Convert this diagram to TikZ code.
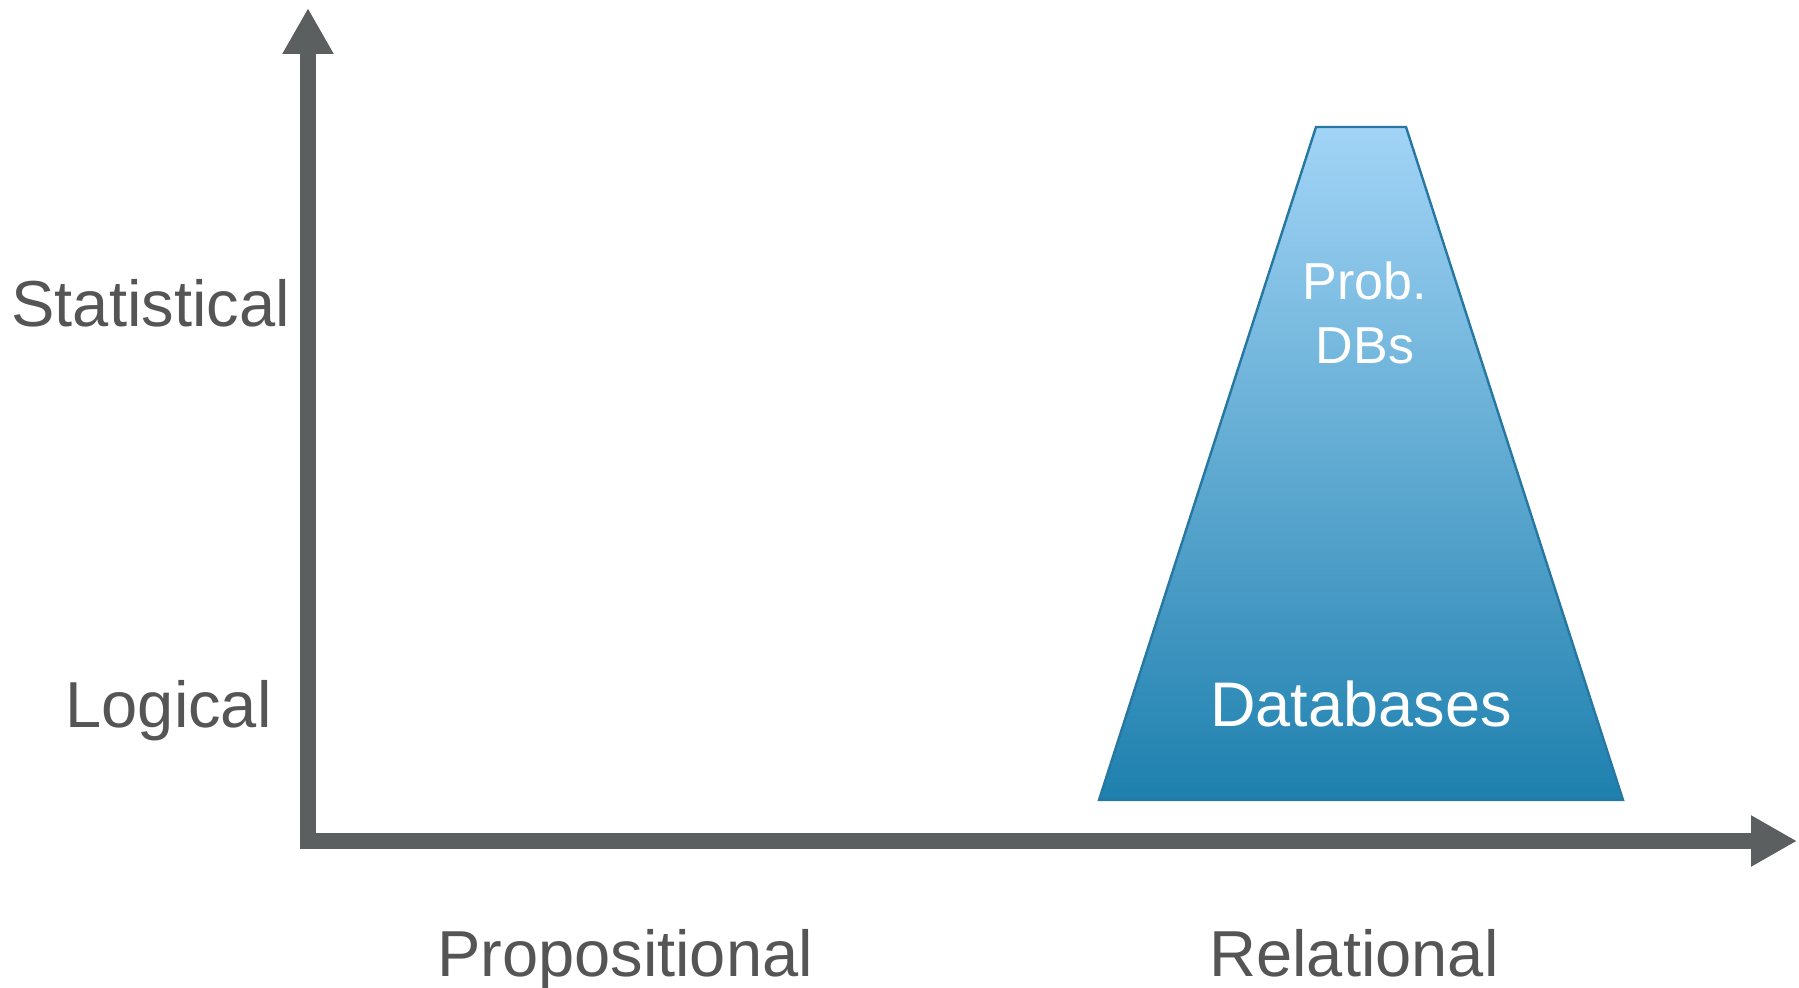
\documentclass[tikz,border=0pt]{standalone}
\usepackage{fontspec}
\setmainfont{Liberation Sans}
\usetikzlibrary{arrows.meta,shadows}

\definecolor{axisgray}{RGB}{91,95,95}
\definecolor{labelgray}{RGB}{85,85,85}
\definecolor{dbtop}{RGB}{162,212,246}
\definecolor{dbbottom}{RGB}{30,128,174}
\definecolor{dbedge}{RGB}{38,120,162}

\begin{document}
\begin{tikzpicture}[x=0.5pt,y=-0.5pt,
  axis/.style={draw=axisgray,line width=8pt,line join=miter,
    {Triangle[width=24pt,length=23pt]}-{Triangle[width=24pt,length=23pt]}},
  axislabel/.style={inner sep=0pt,text=labelgray,font=\fontsize{32.5}{40}\selectfont},
  dblabel/.style={inner sep=0pt,text=white,align=center}]
\path[use as bounding box] (0,0) rectangle (1799,988);
% axes
\coordinate (ytip) at (308,8);
\coordinate (origin) at (308,841);
\coordinate (xtip) at (1797,841);
\draw[axis] (ytip) -- (origin) -- (xtip);
% the trapezoid
\coordinate (tl) at (1316,127);
\coordinate (tr) at (1406,127);
\coordinate (br) at (1623,800);
\coordinate (bl) at (1099,800);
\fill[black,opacity=.18] ([xshift=2,yshift=3]bl) -- ([xshift=-2,yshift=3]br) -- ([xshift=-2,yshift=8]br) -- ([xshift=2,yshift=8]bl) -- cycle;
\shade[top color=dbtop,bottom color=dbbottom,draw=dbedge,line width=1.2pt] (tl) -- (tr) -- (br) -- (bl) -- cycle;
\node[dblabel,font=\fontsize{26}{32}\selectfont] (probdb) at (1365,313) {Prob.\\DBs};
\node[dblabel,anchor=base,font=\fontsize{31.5}{38}\selectfont] (db) at (1361,726) {Databases};
% labels
\node[axislabel,anchor=base east] (stat) at (290,327) {Statistical};
\node[axislabel,anchor=base east] (logic) at (272,727) {Logical};
\node[axislabel,anchor=base] (prop) at (625,976) {Propositional};
\node[axislabel,anchor=base] (rel) at (1354,976) {Relational};
\end{tikzpicture}
\end{document}
